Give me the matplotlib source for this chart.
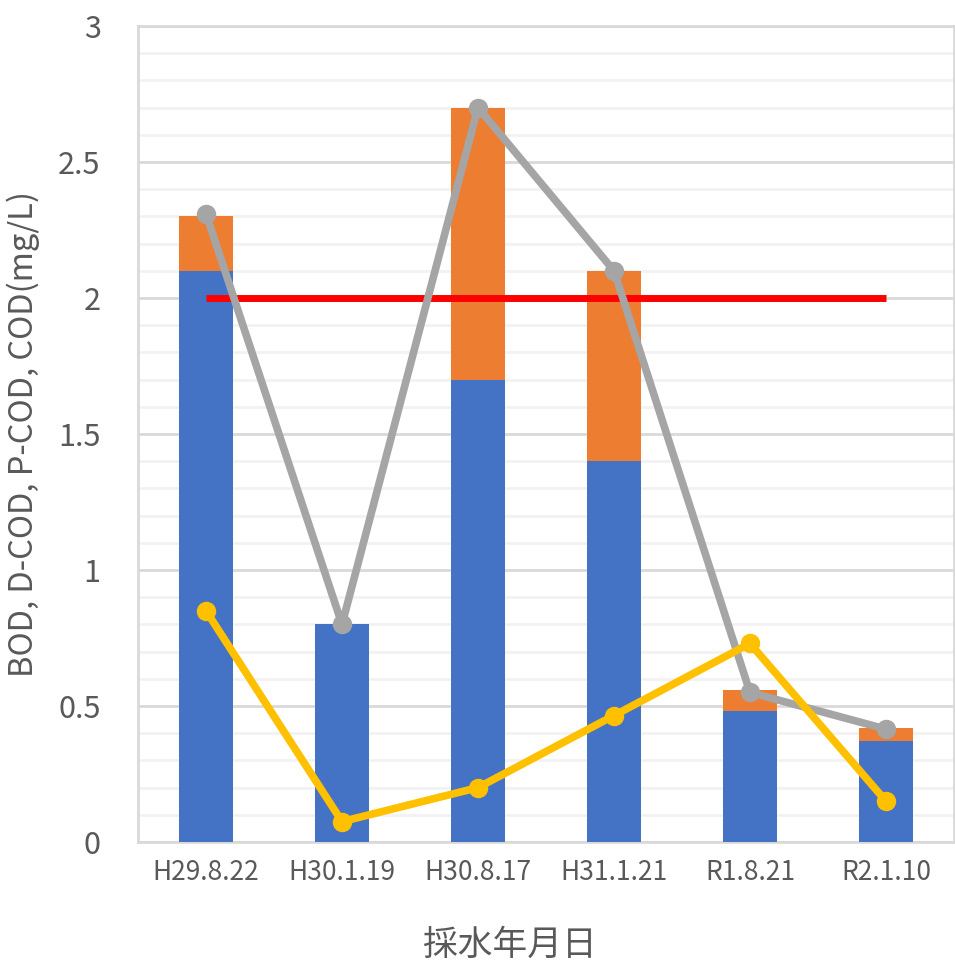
import numpy as np
import matplotlib
matplotlib.use("Agg")
import matplotlib.pyplot as plt

plt.rcParams['font.family'] = ['Noto Sans CJK JP', 'DejaVu Sans']

dates = ["H29.8.22", "H30.1.19", "H30.8.17", "H31.1.21", "R1.8.21", "R2.1.10"]
d_cod = [2.1, 0.8, 1.7, 1.4, 0.48, 0.37]
p_cod = [0.2, 0.0, 1.0, 0.7, 0.08, 0.05]
cod = [2.31, 0.8, 2.7, 2.1, 0.55, 0.415]
bod = [0.85, 0.075, 0.2, 0.465, 0.73, 0.15]
standard = [2, 2, 2, 2, 2, 2]

W, H = 955, 968
fig = plt.figure(figsize=(W / 100, H / 100), dpi=100)
ax = fig.add_axes([138 / W, (H - 842) / H, (954 - 138) / W, (842 - 26) / H])

x = np.arange(len(dates))
ax.bar(x, d_cod, width=0.4, color="#4472C4", zorder=3)
ax.bar(x, p_cod, width=0.4, bottom=d_cod, color="#ED7D31", zorder=3)
ax.plot(x, standard, color="#FF0000", lw=5, zorder=4, solid_capstyle="butt")
ax.plot(x, cod, color="#A5A5A5", lw=5.5, marker="o", ms=13, zorder=5)
ax.plot(x, bod, color="#FFC000", lw=5.5, marker="o", ms=13, zorder=6)

ax.set_xlim(-0.5, len(dates) - 0.5)
ax.set_ylim(0, 3)
ax.set_yticks(np.arange(0, 3.01, 0.5))
ax.set_yticklabels(["0", "0.5", "1", "1.5", "2", "2.5", "3"])
ax.set_yticks(np.arange(0, 3.01, 0.1), minor=True)
ax.grid(axis="y", which="major", color="#D9D9D9", lw=2, zorder=0)
ax.grid(axis="y", which="minor", color="#F2F2F2", lw=2, zorder=0)
ax.set_xticks(x)
ax.set_xticklabels(dates, fontsize=19, color="#595959")
ax.tick_params(axis="y", which="both", length=0, labelsize=22, labelcolor="#595959", pad=27)
ax.tick_params(axis="x", length=0, pad=12)

for s in ax.spines.values():
    s.set_color("#D9D9D9")
    s.set_linewidth(2)

ax.set_ylabel("BOD, D-COD, P-COD, COD(mg/L)", fontsize=23.5, color="#595959")
ax.yaxis.set_label_coords((23 - 138) / 816, 0.5)
ax.set_xlabel("採水年月日", fontsize=25, color="#595959")
ax.xaxis.set_label_coords((510 - 138) / 816, (842 - 945) / 816)
ax.xaxis.label.set_verticalalignment("center")
ax.yaxis.label.set_verticalalignment("center")

fig.savefig("out.png", dpi=100)
